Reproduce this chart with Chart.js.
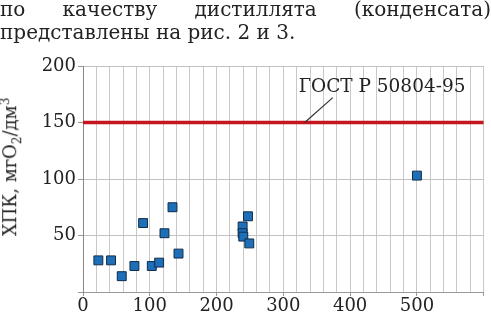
<!DOCTYPE html>
<html>
<head>
<meta charset="utf-8">
<script src="https://cdn.jsdelivr.net/npm/chart.js@4"></script>
<style>
  body { margin: 0; background: #fff; }
  #wrap { position: relative; width: 491px; height: 315px; overflow: hidden; }
  #txt { position: absolute; left: 0; top: -2px; width: 491px; font: 20px "DejaVu Serif", serif; line-height: 22.5px; color: #222; }
  #l1 { text-align: justify; text-align-last: justify; }
  #ytitle { position: absolute; left: 11px; top: 167px; transform: translate(-50%, -50%) rotate(-90deg); white-space: nowrap; font: 18px "DejaVu Serif", serif; color: #222; }
  canvas { position: absolute; left: 0; top: 0; }
</style>
</head>
<body>
<div id="wrap">
  <canvas id="myChart" width="491" height="315"></canvas>
  <div id="txt">
    <div id="l1">по качеству дистиллята (конденсата)</div>
    <div>представлены на рис. 2 и 3.</div>
  </div>
  <div id="ytitle">ХПК, мгО<sub style="font-size:12px">2</sub>/дм<sup style="font-size:12px">3</sup></div>
</div>
<script>
// measured points (x: value on horizontal axis, y: ХПК)
const xValues = [23, 42, 58, 77, 90, 103, 114, 122, 134, 143, 239, 239, 240, 247, 249, 500];
const yValues = [28, 28, 14, 23, 61, 23, 26, 52, 75, 34, 58, 52, 49, 67, 43, 103];
const gostLimit = 150;
const gostLabel = "ГОСТ Р 50804-95";
const xRange = [0, 600];
const yRange = [0, 200];

const points = xValues.map((x, i) => ({ x: x, y: yValues[i] }));
const limitLine = [{ x: xRange[0], y: gostLimit }, { x: xRange[1], y: gostLimit }];

const serif = "'DejaVu Serif', serif";

const gostNote = {
  id: "gostNote",
  afterDatasetsDraw(chart, args, opts) {
    const xs = chart.scales.x, ys = chart.scales.y;
    const c = chart.ctx;
    c.save();
    c.strokeStyle = "#333";
    c.lineWidth = 1.2;
    c.beginPath();
    c.moveTo(xs.getPixelForValue(opts.lineFrom[0]), ys.getPixelForValue(opts.lineFrom[1]));
    c.lineTo(xs.getPixelForValue(opts.lineTo[0]), ys.getPixelForValue(opts.lineTo[1]));
    c.stroke();
    c.fillStyle = "#222";
    c.font = "18.5px " + serif;
    c.textBaseline = "middle";
    c.fillText(gostLabel, xs.getPixelForValue(opts.textAt[0]), ys.getPixelForValue(opts.textAt[1]));
    c.restore();
  }
};

function drawChart() {
  const ctx = document.getElementById("myChart").getContext("2d");
  new Chart(ctx, {
    type: "scatter",
    data: {
      datasets: [
        {
          label: "ГОСТ",
          data: limitLine,
          showLine: true,
          borderColor: "#c4161c",
          borderWidth: 3.5,
          pointRadius: 0,
          order: 2
        },
        {
          label: "ХПК",
          data: points,
          pointStyle: "rect",
          pointRadius: 6.3,
          pointBackgroundColor: "#1f6fb8",
          pointBorderColor: "#0e2c4a",
          pointBorderWidth: 1,
          order: 1
        }
      ]
    },
    options: {
      responsive: false,
      animation: false,
      layout: { padding: { top: 66, right: 6, left: 0, bottom: 0 } },
      plugins: {
        legend: { display: false },
        tooltip: { enabled: false },
        gostNote: { textAt: [323, 181], lineFrom: [332, 150], lineTo: [374, 172] }
      },
      scales: {
        x: {
          type: "linear",
          min: xRange[0],
          max: xRange[1],
          afterFit: s => { s.height = 23; },
          ticks: {
            stepSize: 20,
            autoSkip: false,
            maxRotation: 0,
            padding: 0,
            color: "#222",
            font: { family: serif, size: 18 },
            callback: v => (v % 100 === 0 && v < 600) ? v : ""
          },
          grid: {
            color: "#c9c9c9",
            lineWidth: 1,
            tickLength: 4,
            tickColor: c => (c.tick && c.tick.value % 100 === 0) ? "#999" : "rgba(0,0,0,0)"
          },
          border: { color: "#999" }
        },
        y: {
          min: yRange[0],
          max: yRange[1],
          afterFit: s => { s.width = 83; },
          ticks: {
            stepSize: 50,
            padding: 2,
            color: "#222",
            font: { family: serif, size: 18 },
            callback: v => v === 0 ? "" : v
          },
          grid: { color: "#c2c2c2", tickLength: 5, tickColor: "#999" },
          border: { color: "#888" }
        }
      }
    },
    plugins: [gostNote]
  });
}

document.fonts.load("18px 'DejaVu Serif'").then(drawChart, drawChart);
</script>
</body>
</html>
